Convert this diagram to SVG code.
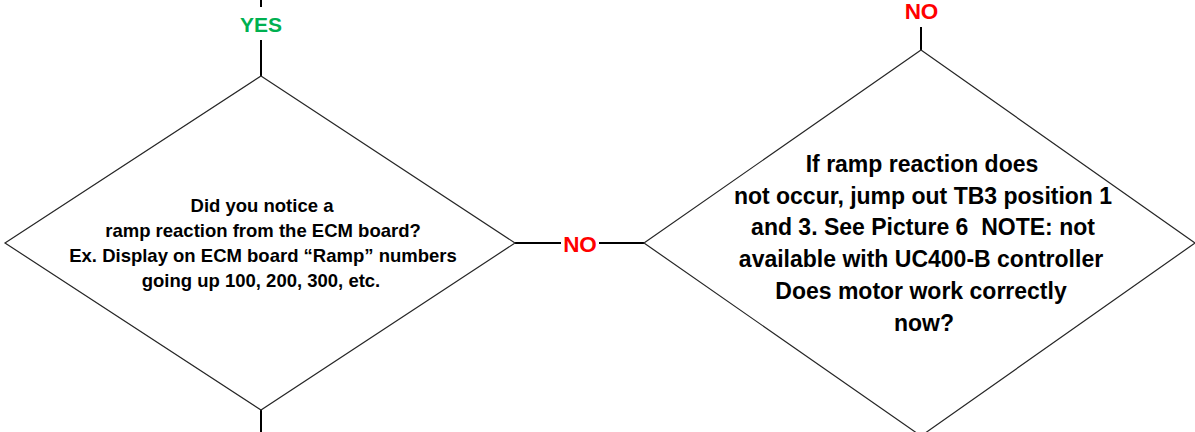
<svg xmlns="http://www.w3.org/2000/svg" width="1195" height="432" viewBox="0 0 1195 432">
<style>
.shape{fill:#fff;stroke:#262626;stroke-width:1.2}
.conn{stroke:#000;stroke-width:2;fill:none}
.t{font-family:"Liberation Sans",Arial,sans-serif;font-weight:bold;text-anchor:middle;fill:#000}
.yes{font-family:"Liberation Sans",Arial,sans-serif;font-weight:bold;text-anchor:middle;fill:#00B050;font-size:21px}
.no{font-family:"Liberation Sans",Arial,sans-serif;font-weight:bold;text-anchor:middle;fill:#FF0000;font-size:22.5px}
</style>
<rect width="1195" height="432" fill="#fff"/>
<g id="connectors">
<line class="conn" x1="261" y1="0" x2="261" y2="7"/>
<line class="conn" x1="261" y1="40" x2="261" y2="76"/>
<line class="conn" x1="261" y1="410" x2="261" y2="432"/>
<line class="conn" x1="515" y1="243" x2="561" y2="243"/>
<line class="conn" x1="599" y1="243" x2="644" y2="243"/>
<line class="conn" x1="921" y1="27" x2="921" y2="50"/>
<text class="yes" x="261" y="31.5">YES</text>
<text class="no" x="580" y="252">NO</text>
<text class="no" x="921.5" y="18.5">NO</text>
</g>
<g id="decision1">
<polygon class="shape" points="261,76 515,243 261,410 5,243"/>
<text class="t" font-size="18.5" x="262" y="212">Did you notice a</text>
<text class="t" font-size="18.5" x="263" y="237">ramp reaction from the ECM board?</text>
<text class="t" font-size="18.5" x="263" y="262">Ex. Display on ECM board “Ramp” numbers</text>
<text class="t" font-size="18.5" x="261" y="287">going up 100, 200, 300, etc.</text>
</g>
<g id="decision2">
<polygon class="shape" points="921,50 1195,243 921,436 644,243"/>
<text class="t" font-size="23" x="922" y="172">If ramp reaction does</text>
<text class="t" font-size="23" x="923" y="203.5">not occur, jump out TB3 position 1</text>
<text class="t" font-size="23" x="923" y="235" xml:space="preserve">and 3. See Picture 6  NOTE: not</text>
<text class="t" font-size="23" x="921" y="266.7">available with UC400-B controller</text>
<text class="t" font-size="23" x="921" y="298.5">Does motor work correctly</text>
<text class="t" font-size="23" x="924" y="330.5">now?</text>
</g>
</svg>
